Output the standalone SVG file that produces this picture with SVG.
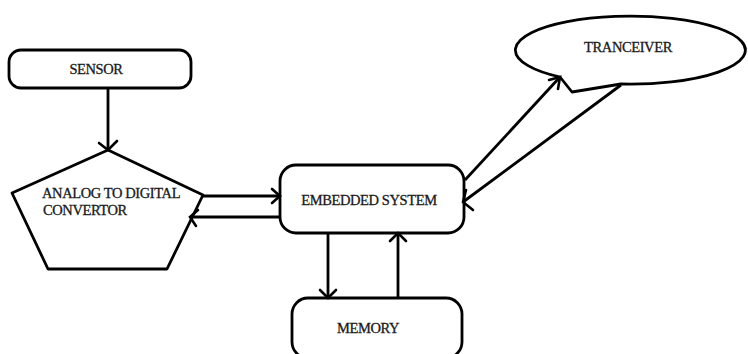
<svg xmlns="http://www.w3.org/2000/svg" width="748" height="354" viewBox="0 0 748 354">
<defs>
<style>
.shape{fill:#fff;stroke:#000;stroke-width:2.8;stroke-linejoin:round}
.conn{fill:none;stroke:#000;stroke-width:2.8}
.head{fill:none;stroke:#000;stroke-width:2.6;stroke-linecap:round}
text{font-family:"Liberation Serif","Times New Roman",serif;font-size:14.5px;fill:#1a1a1a;letter-spacing:-0.4px;stroke:#1a1a1a;stroke-width:0.3}
</style>
</defs>
<rect width="748" height="354" fill="#fff"/>
<g id="sensor">
<rect class="shape" x="9" y="50" width="182" height="38" rx="12" ry="12"/>
<text x="96" y="74" text-anchor="middle">SENSOR</text>
</g>
<g id="adc">
<polygon class="shape" points="108,150 203,195 167,269 48,269 12,193"/>
<text x="42" y="198">ANALOG TO DIGITAL</text>
<text x="43" y="215">CONVERTOR</text>
</g>
<g id="embedded">
<rect class="shape" x="280" y="165" width="184" height="68" rx="16" ry="16"/>
<text x="369" y="205" text-anchor="middle">EMBEDDED SYSTEM</text>
</g>
<g id="memory">
<rect class="shape" x="292" y="298" width="170" height="60" rx="16" ry="16"/>
<text x="368" y="333" text-anchor="middle">MEMORY</text>
</g>
<g id="transceiver">
<path class="shape" d="M560,77 A115,34 0 1 1 621,84 L572,92 Z"/>
<text x="628" y="52" text-anchor="middle">TRANCEIVER</text>
</g>
<g id="connectors">
<line class="conn" x1="108" y1="88" x2="108" y2="150"/>
<path class="head" d="M99,143 L108,150 L117,141"/>
<line class="conn" x1="203" y1="196" x2="280" y2="196"/>
<path class="head" d="M272,189 L280,196 L272,203"/>
<line class="conn" x1="280" y1="217" x2="190" y2="217"/>
<path class="head" d="M198,210 L190,217 L196,226"/>
<line class="conn" x1="328" y1="233" x2="328" y2="298"/>
<path class="head" d="M320,290 L328,298 L336,290"/>
<line class="conn" x1="398" y1="298" x2="398" y2="233"/>
<path class="head" d="M390,241 L398,233 L406,241"/>
<line class="conn" x1="465" y1="180" x2="560" y2="77"/>
<path class="head" d="M549,80 L560,77 L558,89"/>
<line class="conn" x1="621" y1="85" x2="463" y2="202"/>
<path class="head" d="M466,190 L463,202 L473,210"/>
</g>
</svg>
